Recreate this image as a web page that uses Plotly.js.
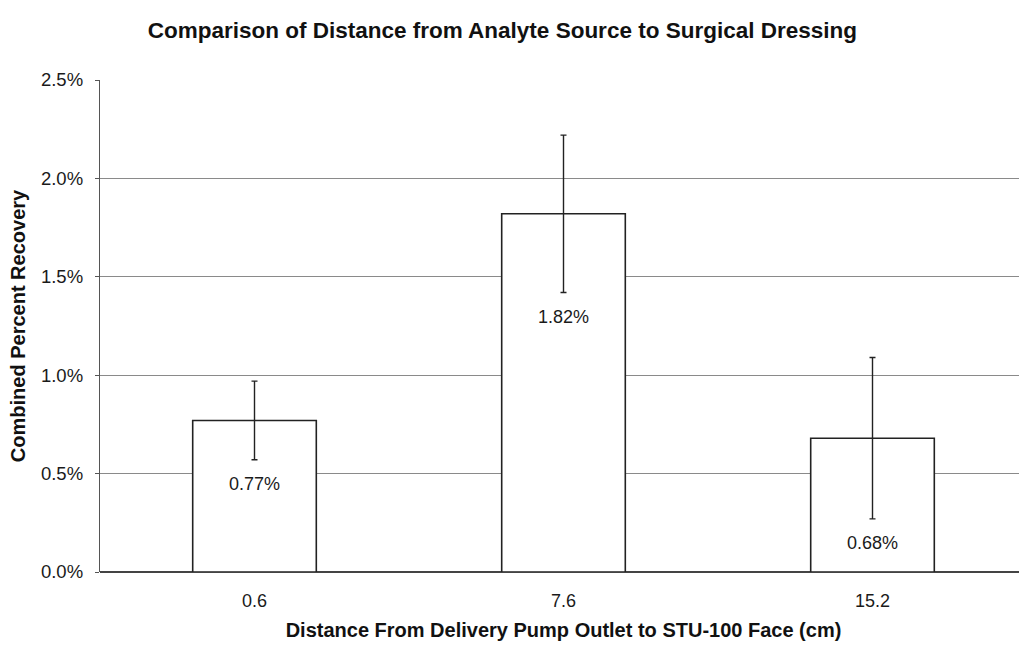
<!DOCTYPE html>
<html>
<head>
<meta charset="utf-8">
<script src="https://cdn.plot.ly/plotly-3.0.1.min.js"></script>
<style>
html,body{margin:0;padding:0;overflow:hidden;background:#fff;}
#chart{width:1040px;height:646px;}
</style>
</head>
<body>
<div id="chart"></div>
<script>
const categories = ["0.6", "7.6", "15.2"];
const recovery = [0.0077, 0.0182, 0.0068];
const errors = [0.0020, 0.0040, 0.0041];
const yTicks = [0, 0.005, 0.010, 0.015, 0.020, 0.025];

const FONT = "Liberation Sans, Arial, sans-serif";

const trace = {
  type: "bar",
  x: categories,
  y: recovery,
  width: 0.40,
  marker: {color: "#ffffff", line: {color: "#222222", width: 1.6}},
  error_y: {type: "data", array: errors, visible: true, color: "#222222", thickness: 1.4, width: 3},
  hoverinfo: "skip"
};

const annotations = categories.map((c, i) => ({
  x: i,
  y: recovery[i] - errors[i],
  xref: "x", yref: "y",
  text: (recovery[i] * 100).toFixed(2) + "%",
  showarrow: false,
  yanchor: "top",
  yshift: -12,
  font: {family: FONT, size: 18, color: "#1a1a1a"}
}));

const layout = {
  width: 1040,
  height: 646,
  margin: {l: 100, r: 13, t: 80, b: 74},
  paper_bgcolor: "#ffffff",
  plot_bgcolor: "#ffffff",
  showlegend: false,
  title: {
    text: "<b>Comparison of Distance from Analyte Source to Surgical Dressing</b>",
    font: {family: FONT, size: 22.5, color: "#111111"},
    x: 0.483, xref: "container", xanchor: "center",
    y: 0.953, yref: "container", yanchor: "middle"
  },
  xaxis: {
    type: "category",
    range: [-0.5, 2.5],
    showgrid: false,
    showline: false,
    zeroline: false,
    ticks: "",
    ticklabelstandoff: 16,
    tickfont: {family: FONT, size: 18, color: "#1a1a1a"},
    title: {
      text: "<b>Distance From Delivery Pump Outlet to STU-100 Face (cm)</b>",
      font: {family: FONT, size: 20, color: "#111111"},
      standoff: 12
    }
  },
  yaxis: {
    range: [0, 0.025],
    tickvals: yTicks,
    tickformat: ".1%",
    showgrid: true,
    gridcolor: "#8a8a8a",
    gridwidth: 1,
    showline: true,
    linecolor: "#555555",
    linewidth: 1.2,
    ticks: "outside",
    ticklen: 4,
    tickcolor: "#555555",
    ticklabelstandoff: 8,
    zeroline: true,
    zerolinecolor: "#444444",
    zerolinewidth: 1.5,
    tickfont: {family: FONT, size: 18.5, color: "#1a1a1a"},
    title: {
      text: "<b>Combined Percent Recovery</b>",
      font: {family: FONT, size: 20, color: "#111111"},
      standoff: 10
    }
  },
  annotations: annotations
};

Plotly.newPlot("chart", [trace], layout, {displayModeBar: false, staticPlot: true});
</script>
</body>
</html>
